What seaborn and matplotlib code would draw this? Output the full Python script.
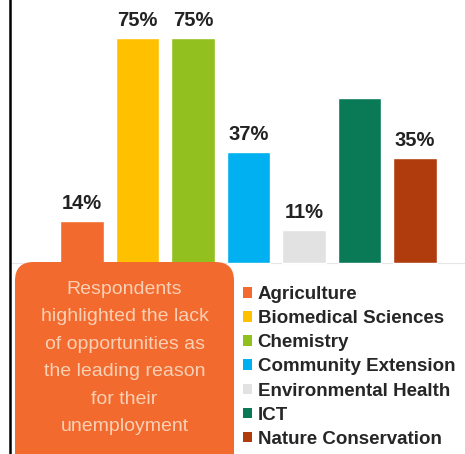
import matplotlib
matplotlib.use("Agg")
import matplotlib.pyplot as plt
import seaborn as sns
import pandas as pd
from matplotlib.patches import Patch, FancyBboxPatch

# --- data ---
fields = ["Agriculture", "Biomedical Sciences", "Chemistry", "Community Extension",
          "Environmental Health", "ICT", "Nature Conservation"]
shares = [14, 75, 75, 37, 11, 55, 35]
bar_labels = ["14%", "75%", "75%", "37%", "11%", "", "35%"]
colors = ["#F26A2E", "#FFC000", "#92C01F", "#00B0F0", "#E2E2E2", "#0A7A56", "#B03C0E"]
callout = ("Respondents\nhighlighted the lack\nof opportunities as\n"
           "the leading reason\nfor their\nunemployment")

sns.set_style("white")
plt.rcParams["font.family"] = ["Liberation Sans", "DejaVu Sans"]

df = pd.DataFrame({"field": fields, "share": shares})

W, H = 465, 454
fig = plt.figure(figsize=(W / 100, H / 100), dpi=100)
fig.patch.set_facecolor("white")
ax = fig.add_axes([10 / W, 0, 1 - 10 / W, 1])

sns.barplot(data=df, x="field", y="share", hue="field", palette=colors,
            width=0.78, legend=False, ax=ax, saturation=1)

ax.set_xlim(-1.3, 6.9)
ax.set_ylim(-191 / 3.0, 263 / 3.0)
ax.axhline(0, color="#E6E6E6", lw=0.8, zorder=0)

# value labels on bars
for p, lab in zip(ax.patches, bar_labels):
    if lab:
        ax.annotate(lab, (p.get_x() + p.get_width() / 2, p.get_height()),
                    xytext=(0, 12), textcoords="offset pixels",
                    ha="center", va="baseline", fontsize=14.5,
                    fontweight="bold", color="#222222")

# axes styling: only a left frame line
for s in ["top", "right", "bottom"]:
    ax.spines[s].set_visible(False)
ax.spines["left"].set_color("black")
ax.spines["left"].set_linewidth(1.8)
ax.set_xticks([])
ax.set_yticks([])
ax.set_xlabel("")
ax.set_ylabel("")

# --- callout box ---
box = FancyBboxPatch((15 / W, -20 / H), 219 / W, 212 / H,
                     boxstyle="round,pad=0,rounding_size=0.04",
                     transform=fig.transFigure, facecolor="#F26A2E",
                     edgecolor="none", zorder=3, mutation_aspect=W / H)
fig.patches.append(box)
fig.text(124.5 / W, 1 - 358 / H, callout, ha="center", va="center",
         fontsize=14, color="#FAD0B5", linespacing=1.8, zorder=4)

# --- legend ---
handles = [Patch(facecolor=c, edgecolor="none", label=f) for f, c in zip(fields, colors)]
leg = fig.legend(handles=handles, loc="upper left",
                 bbox_to_anchor=(243 / W, 1 - 286 / H),
                 frameon=False, borderpad=0, borderaxespad=0,
                 handlelength=0.48, handleheight=0.48, handletextpad=0.3,
                 labelspacing=0.38, prop={"size": 13.5, "weight": "bold"})
leg.set_zorder(5)

plt.savefig("out.png", dpi=100, facecolor=fig.get_facecolor())
plt.close()
